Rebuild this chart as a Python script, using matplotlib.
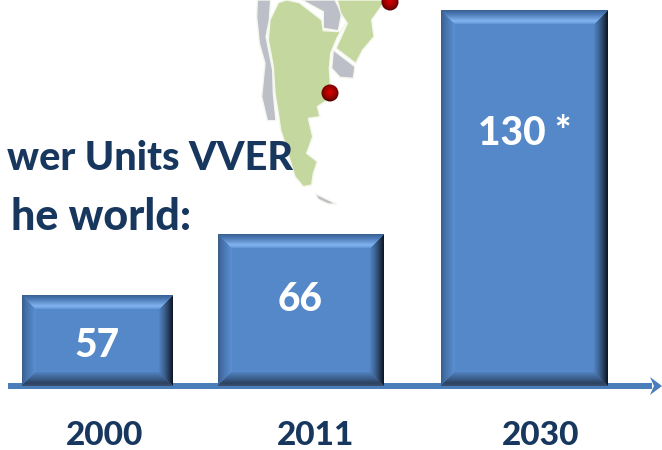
import numpy as np
import matplotlib
matplotlib.use('Agg')
import matplotlib.pyplot as plt
from matplotlib.patches import Polygon, Circle

plt.rcParams['font.family'] = ['Lato', 'DejaVu Sans']

years = ['2000', '2011', '2030']
unit_labels = ['57', '66', '130 *']
# drawn height of each bar, the picture is not to scale with the labels
bar_heights = [91, 152, 376]

bar_left = [22, 218, 441]
bar_width = [151, 166, 167]
navy = '#17375e'
BASE = 386  # pixel row of the axis line


def bevel(w, h, size=14):
    # shaded rgb picture of a bevelled button, one pixel per cell
    base = np.array([0x55, 0x88, 0xc8]) / 255
    img = np.ones((h, w, 3)) * base
    yy, xx = np.mgrid[0:h, 0:w]
    top = yy + 0.5
    bottom = h - yy - 0.5
    left = xx + 0.5
    right = w - xx - 0.5
    nearest = np.minimum.reduce([top, bottom, left, right])

    def ramp(mask, d, stops, colors):
        for c in range(3):
            vals = np.interp(d, stops, [col[c] for col in colors]) / 255
            img[..., c][mask] = vals[mask]

    ramp((left == nearest) & (left < size), left, [0, 4, 14],
         [(0x38, 0x5d, 0x8a), (0x45, 0x70, 0xa8), (0x5b, 0x90, 0xd2)])
    ramp((right == nearest) & (right < size), right, [0, 3, 8, 14],
         [(0x0c, 0x14, 0x22), (0x1e, 0x30, 0x4a), (0x3a, 0x5c, 0x8a), (0x52, 0x84, 0xc2)])
    ramp((bottom == nearest) & (bottom < size), bottom, [0, 3, 7, 14],
         [(0x3a, 0x50, 0x6e), (0x2c, 0x42, 0x60), (0x3a, 0x5c, 0x88), (0x50, 0x82, 0xc0)])
    ramp((top == nearest) & (top < size), top, [0, 4, 11, 14],
         [(0x38, 0x60, 0x90), (0x4a, 0x78, 0xb4), (0x82, 0xb4, 0xf0), (0x5f, 0x94, 0xd6)])
    return img


fig = plt.figure(figsize=(6.62, 4.5), dpi=100)
ax = fig.add_axes([0, 0, 1, 1])
ax.set_xlim(0, 662)
ax.set_ylim(BASE - 450, BASE)
ax.axis('off')


def py(points):
    # map outline was read in zoomed picture coordinates
    return [(240 + x / 3, BASE - y / 3) for x, y in points]


land = '#c4d79e'
sea_land = '#bcbec8'
chile = [(52, 0), (92, 0), (88, 60), (78, 110), (98, 210), (100, 280), (108, 362),
         (82, 362), (65, 290), (75, 190), (58, 130), (50, 50)]
paraguay = [(185, 0), (250, 35), (250, 85), (295, 92), (305, 40), (285, 0)]
uruguay = [(280, 150), (345, 200), (340, 235), (300, 232), (275, 205)]
argentina = [(115, 8), (90, 60), (85, 120), (100, 200), (105, 280), (115, 340), (122, 390),
             (135, 430), (150, 480), (165, 530), (190, 560), (215, 555), (220, 520),
             (232, 485), (200, 460), (218, 410), (205, 355), (240, 350), (232, 320),
             (262, 300), (272, 270), (268, 205), (272, 160), (292, 112), (318, 70),
             (300, 95), (250, 92), (245, 60), (178, 8), (140, 0)]
brazil = [(292, 0), (302, 40), (322, 70), (288, 145), (347, 190), (368, 150), (402, 110),
          (395, 60), (425, 18), (440, 0)]
tierra = [(225, 580), (245, 590), (290, 612), (265, 612), (235, 598)]
for shape, col in [(chile, sea_land), (paraguay, sea_land), (uruguay, sea_land),
                   (tierra, sea_land), (argentina, land), (brazil, land)]:
    ax.add_patch(Polygon(py(shape), closed=True, fc=col, ec='#f4f7ec', lw=1.0, zorder=1))

# red balls on the map
for cx, cy in [(330, 93), (390, 2)]:
    yy, xx = np.mgrid[-1:1:40j, -1:1:40j]
    shade = np.clip(1 - np.hypot(xx, yy + 0.1), 0, 1)
    rgba = np.zeros((40, 40, 3))
    rgba[..., 0] = 0.3 + 0.55 * shade ** 0.6
    img = ax.imshow(rgba, extent=(cx - 9, cx + 9, BASE - cy - 9, BASE - cy + 9), zorder=2)
    img.set_clip_path(Circle((cx, BASE - cy), 8.5, transform=ax.transData))

ax.text(293, BASE - 170, 'wer Units VVER', color=navy, fontsize=28.5, fontweight='black',
        ha='right', va='baseline', zorder=3)
ax.text(191, BASE - 230, 'he world:', color=navy, fontsize=31, fontweight='black',
        ha='right', va='baseline', zorder=3)

# axis arrow
ax.plot([8, 652], [0, 0], color='#4a7ebb', lw=4.3, solid_capstyle='butt', zorder=3)
ax.add_patch(Polygon([(650, 9), (662, 0), (650, -9), (654, 0)], closed=True,
                     fc='#4a7ebb', ec='none', zorder=3))

bars = ax.bar(bar_left, bar_heights, width=bar_width, align='edge',
              color='#5588c8', zorder=4)
for rect in bars:
    x0, w, h = rect.get_x(), rect.get_width(), rect.get_height()
    ax.imshow(bevel(int(w), int(h)), extent=(x0, x0 + w, 0, h), zorder=5,
              interpolation='bilinear')
ax.set_xlim(0, 662)
ax.set_ylim(BASE - 450, BASE)
ax.set_aspect('auto')

label_y = [BASE - 357, BASE - 311, BASE - 145]
label_x = [97, 300, 525]
for x, y, s in zip(label_x, label_y, unit_labels):
    ax.text(x, y, s, color='white', fontsize=28, fontweight='black',
            ha='center', va='baseline', zorder=6)

year_x = [105, 316, 541]
for x, s in zip(year_x, years):
    ax.text(x, BASE - 445, s, color=navy, fontsize=24, fontweight='black',
            ha='center', va='baseline', zorder=6)

fig.savefig('out.png', dpi=100)
